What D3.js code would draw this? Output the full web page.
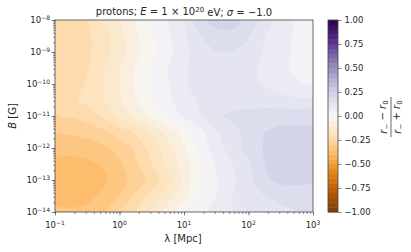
<!DOCTYPE html>
<html>
<head>
<meta charset="utf-8">
<script src="https://cdn.jsdelivr.net/npm/d3@7"></script>
<style>
body{margin:0;background:#fff}
text{font-family:"DejaVu Sans",sans-serif;fill:#262626}
</style>
</head>
<body>
<svg id="chart" width="411" height="252"></svg>
<script>
// grid: log10(lambda / Mpc) across, log10(B / G) down (top row = 1e-8)
const lambdaExp=[-1,-0.75,-0.5,-0.25,0,0.25,0.5,0.75,1,1.25,1.5,1.75,2,2.25,2.5,2.75,3];
const bExp=[-8,-8.5,-9,-9.5,-10,-10.5,-11,-11.5,-12,-12.5,-13,-13.5,-14];

// (r_- - r_0)/(r_- + r_0)
const ratio=[
	[-0.225,-0.22,-0.205,-0.16,-0.105,-0.045,0.005,0.055,0.095,0.19,0.215,0.215,0.185,0.125,0.075,0.045,0.03],
	[-0.225,-0.22,-0.21,-0.17,-0.12,-0.06,-0.005,0.04,0.09,0.15,0.185,0.19,0.155,0.1,0.07,0.04,0.03],
	[-0.23,-0.225,-0.21,-0.17,-0.12,-0.065,-0.015,0.035,0.085,0.125,0.148,0.15,0.13,0.095,0.065,0.04,0.035],
	[-0.235,-0.225,-0.205,-0.155,-0.1,-0.045,0,0.05,0.095,0.115,0.125,0.13,0.115,0.085,0.06,0.04,0.035],
	[-0.24,-0.225,-0.195,-0.15,-0.1,-0.04,0,0.045,0.095,0.115,0.125,0.13,0.115,0.095,0.075,0.055,0.045],
	[-0.245,-0.21,-0.185,-0.15,-0.105,-0.055,-0.005,0.04,0.075,0.11,0.125,0.13,0.13,0.125,0.115,0.11,0.105],
	[-0.252,-0.245,-0.225,-0.19,-0.14,-0.09,-0.04,0.015,0.06,0.095,0.14,0.16,0.165,0.175,0.18,0.18,0.18],
	[-0.298,-0.29,-0.28,-0.26,-0.23,-0.19,-0.135,-0.08,-0.025,0.035,0.095,0.135,0.165,0.2,0.215,0.215,0.21],
	[-0.335,-0.335,-0.325,-0.31,-0.28,-0.24,-0.18,-0.12,-0.055,0.015,0.08,0.125,0.17,0.205,0.22,0.22,0.215],
	[-0.365,-0.365,-0.36,-0.345,-0.31,-0.26,-0.2,-0.135,-0.075,-0.01,0.055,0.1,0.14,0.2,0.22,0.225,0.22],
	[-0.385,-0.385,-0.375,-0.36,-0.32,-0.28,-0.23,-0.17,-0.085,0,0.045,0.09,0.135,0.19,0.215,0.22,0.21],
	[-0.365,-0.365,-0.36,-0.34,-0.3,-0.24,-0.18,-0.12,-0.06,0,0.05,0.1,0.13,0.15,0.16,0.16,0.155],
	[-0.34,-0.345,-0.34,-0.31,-0.26,-0.2,-0.14,-0.08,-0.01,0.03,0.07,0.1,0.12,0.13,0.14,0.15,0.155]
];

const xTickExps=[-1,0,1,2,3];
const yTickExps=[-14,-13,-12,-11,-10,-9,-8];
const cbarTicks=[-1,-0.75,-0.5,-0.25,0,0.25,0.5,0.75,1];
const puOr=["#7f3b08","#b35806","#e08214","#fdb863","#fee0b6","#f7f7f7","#d8daeb","#b2abd2","#8073ac","#542788","#2d004b"];

const pl=55,pr=313,pt=20,pb=212;
const svg=d3.select("#chart");

const x=d3.scaleLog().domain([0.1,1000]).range([pl,pr]);
const y=d3.scaleLog().domain([1e-14,1e-8]).range([pb,pt]);
const color=d3.scaleLinear().domain(puOr.map((c,i)=>-1+i*0.2)).range(puOr);
const levels=d3.range(41).map(i=>+(-1+i*0.05).toFixed(2));

// filled contours
const nx=lambdaExp.length, ny=bExp.length;
const gx=d3.scaleLinear().domain([0.5,nx-0.5]).range([lambdaExp[0],lambdaExp[nx-1]]);
const gy=d3.scaleLinear().domain([0.5,ny-0.5]).range([bExp[0],bExp[ny-1]]);
const toPx=p=>[x(Math.pow(10,gx(p[0]))),y(Math.pow(10,gy(p[1])))];
const ringLine=d3.line().curve(d3.curveCatmullRomClosed.alpha(0.5));
const bands=d3.contours().size([nx,ny]).thresholds(levels)(ratio.flat());

function bandPath(d){
	return d.coordinates.flatMap(poly=>poly.map(ring=>{
		const pts=ring.slice(0,-1).map(toPx);
		return pts.length>2 ? ringLine(pts) : "";
	})).join("");
}

svg.append("clipPath").attr("id","clip")
	.append("rect").attr("x",pl).attr("y",pt).attr("width",pr-pl).attr("height",pb-pt);

svg.append("g").attr("clip-path","url(#clip)")
	.selectAll("path").data(bands).join("path")
		.attr("d",bandPath)
		.attr("fill",d=>color(d.value+0.025));

svg.append("rect")
	.attr("x",pl).attr("y",pt).attr("width",pr-pl).attr("height",pb-pt)
	.attr("fill","none").attr("stroke","#444").attr("stroke-width",0.8);

function pow10(sel,e){
	sel.text(null);
	sel.append("tspan").text("10");
	sel.append("tspan").attr("dy","-0.45em").attr("font-size","6px").text(String(e).replace("-","\u2212"));
}

// x axis
const gxAxis=svg.append("g").attr("transform",`translate(0,${pb})`);
gxAxis.call(d3.axisBottom(x).tickValues(x.ticks()).tickSize(2).tickFormat(""));
gxAxis.append("g").call(d3.axisBottom(x).tickValues(xTickExps.map(e=>Math.pow(10,e))).tickSize(3.5).tickFormat(""));
gxAxis.selectAll(".domain").remove();
gxAxis.selectAll("line").attr("stroke","#444").attr("stroke-width",0.6);
svg.append("g").selectAll("text").data(xTickExps).join("text")
	.attr("x",d=>x(Math.pow(10,d))).attr("y",228)
	.attr("text-anchor","middle").attr("font-size","8.5px")
	.each(function(d){ pow10(d3.select(this),d); });

// y axis
const gyAxis=svg.append("g").attr("transform",`translate(${pl},0)`);
gyAxis.call(d3.axisLeft(y).tickValues(y.ticks()).tickSize(2).tickFormat(""));
gyAxis.append("g").call(d3.axisLeft(y).tickValues(yTickExps.map(e=>Math.pow(10,e))).tickSize(3.5).tickFormat(""));
gyAxis.selectAll(".domain").remove();
gyAxis.selectAll("line").attr("stroke","#444").attr("stroke-width",0.6);
svg.append("g").selectAll("text").data(yTickExps).join("text")
	.attr("x",pl-5).attr("y",d=>y(Math.pow(10,d))+3)
	.attr("text-anchor","end").attr("font-size","8.5px")
	.each(function(d){ pow10(d3.select(this),d); });

// axis labels
svg.append("text").attr("x",183).attr("y",242).attr("text-anchor","middle").attr("font-size","10px").text("\u03bb [Mpc]");
const yl=svg.append("text").attr("transform","translate(16,116) rotate(-90)").attr("text-anchor","middle").attr("font-size","10px");
yl.append("tspan").attr("font-style","italic").text("B");
yl.append("tspan").text(" [G]");

// title
const t=svg.append("text").attr("x",184).attr("y",15).attr("text-anchor","middle").attr("font-size","10px");
t.append("tspan").text("protons; ");
t.append("tspan").attr("font-style","italic").text("E");
t.append("tspan").text(" = 1 \u00d7 10");
t.append("tspan").attr("dy","-0.45em").attr("font-size","7px").text("20");
t.append("tspan").attr("dy","0.45em").text(" eV; ");
t.append("tspan").attr("font-style","italic").text("\u03c3");
t.append("tspan").text(" = \u22121.0");

// colorbar
const cbX=328,cbW=10;
const cb=d3.scaleLinear().domain([-1,1]).range([pb,pt]);
svg.append("g").selectAll("rect").data(levels.slice(0,-1)).join("rect")
	.attr("x",cbX).attr("width",cbW)
	.attr("y",d=>cb(d+0.05)).attr("height",d=>cb(d)-cb(d+0.05)+0.4)
	.attr("fill",d=>color(d+0.025));
svg.append("rect").attr("x",cbX).attr("y",pt).attr("width",cbW).attr("height",pb-pt)
	.attr("fill","none").attr("stroke","#444").attr("stroke-width",0.8);
const gcb=svg.append("g").attr("transform",`translate(${cbX+cbW},0)`)
	.call(d3.axisRight(cb).tickValues(cbarTicks).tickSize(3.5).tickPadding(3).tickFormat(d3.format(".2f")));
gcb.select(".domain").remove();
gcb.selectAll("line").attr("stroke","#444").attr("stroke-width",0.6);
gcb.selectAll("text").attr("font-size","8.5px").attr("font-family","DejaVu Sans").attr("fill","#262626");

// colorbar label
const cl=svg.append("g").attr("transform","translate(391,117) rotate(-90)");
const num=cl.append("text").attr("y",-4).attr("text-anchor","middle").attr("font-size","10px");
num.append("tspan").attr("font-style","italic").text("r");
num.append("tspan").attr("font-size","7px").attr("dy","0.3em").text("\u2212");
num.append("tspan").attr("dy","-0.3em").text(" \u2212 ");
num.append("tspan").attr("font-style","italic").text("r");
num.append("tspan").attr("font-size","7px").attr("dy","0.3em").text("0");
cl.append("line").attr("x1",-20).attr("x2",20).attr("y1",0).attr("y2",0).attr("stroke","#262626").attr("stroke-width",0.7);
const den=cl.append("text").attr("y",10).attr("text-anchor","middle").attr("font-size","10px");
den.append("tspan").attr("font-style","italic").text("r");
den.append("tspan").attr("font-size","7px").attr("dy","0.3em").text("\u2212");
den.append("tspan").attr("dy","-0.3em").text(" + ");
den.append("tspan").attr("font-style","italic").text("r");
den.append("tspan").attr("font-size","7px").attr("dy","0.3em").text("0");
</script>
</body>
</html>
